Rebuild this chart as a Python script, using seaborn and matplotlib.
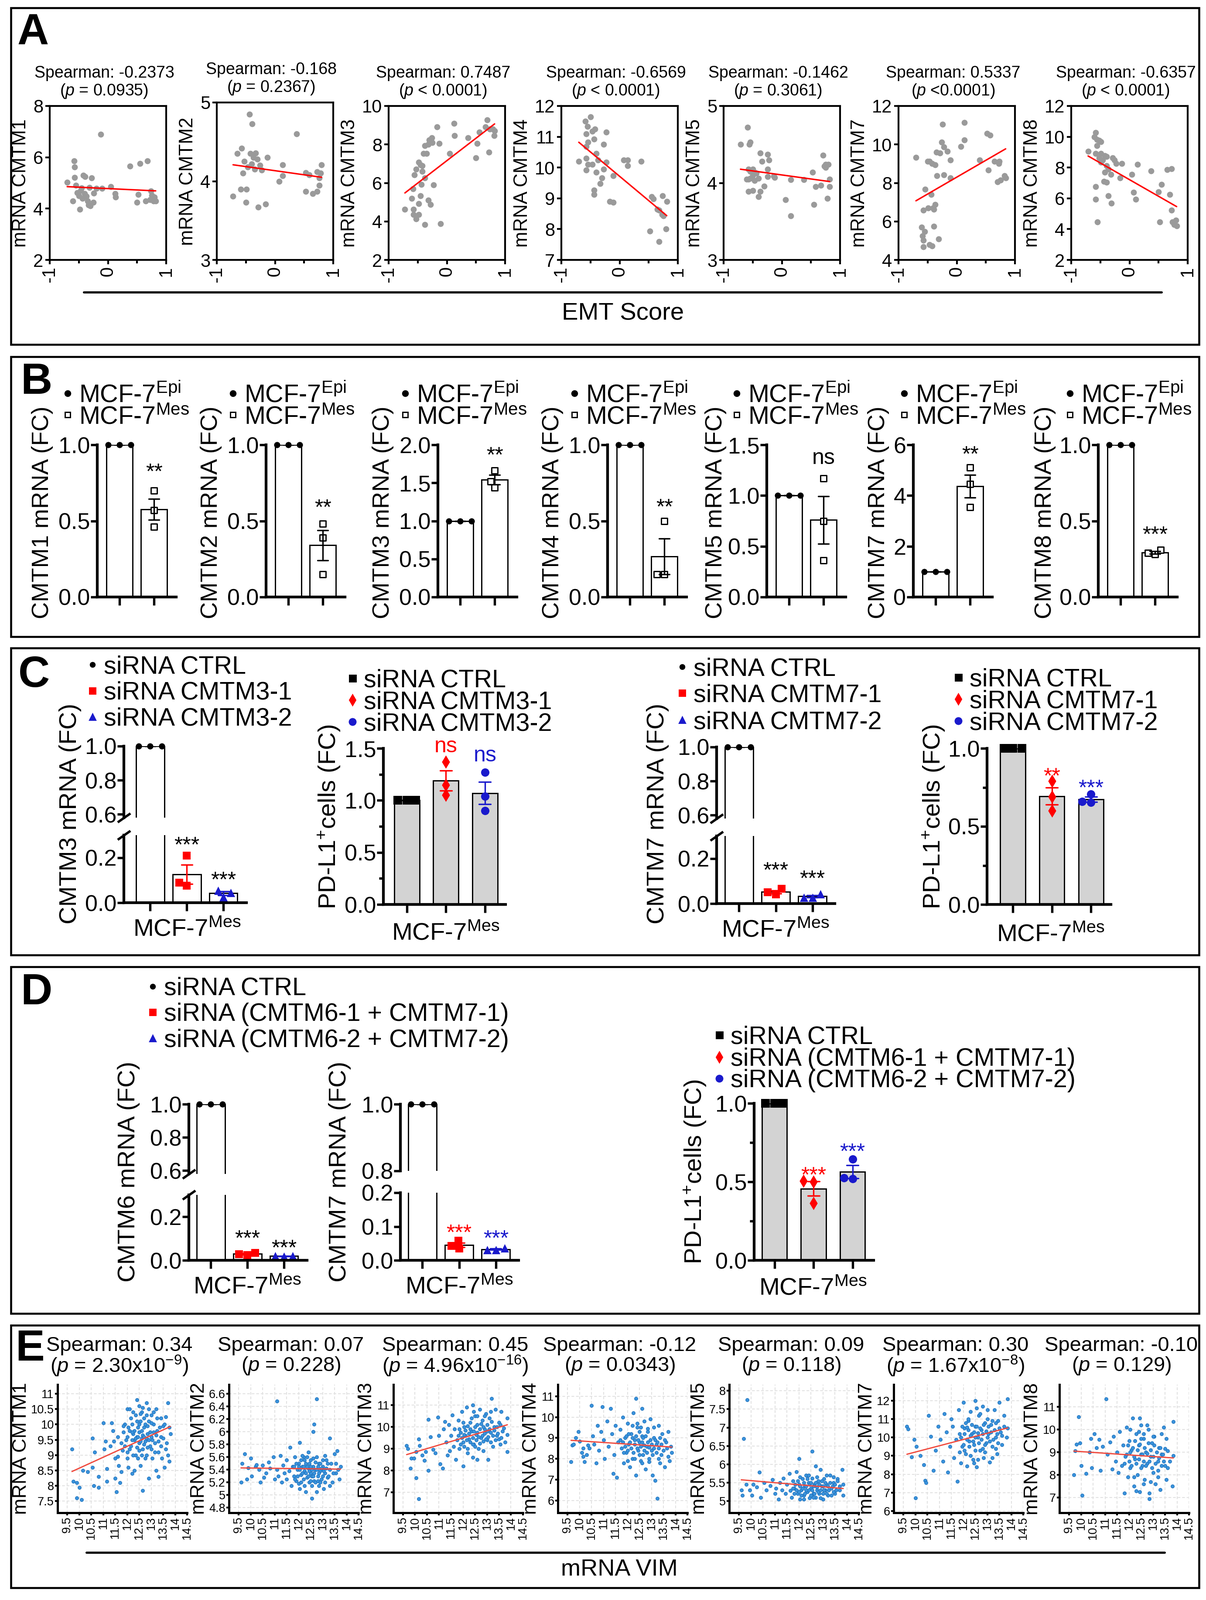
import numpy as np
import pandas as pd
import matplotlib.pyplot as plt
import seaborn as sns
from matplotlib.lines import Line2D
from matplotlib.patches import Rectangle
from matplotlib.ticker import FormatStrFormatter, MultipleLocator

# ---------------- DATA ----------------
# A: mRNA vs EMT score
a_genes = ['CMTM1', 'CMTM2', 'CMTM3', 'CMTM4', 'CMTM5', 'CMTM7', 'CMTM8']
a_rho = ['-0.2373', '-0.168', '0.7487', '-0.6569', '-0.1462', '0.5337', '-0.6357']
a_p = ['= 0.0935', '= 0.2367', '< 0.0001', '< 0.0001', '= 0.3061', '<0.0001', '< 0.0001']
a_ylim = [(2, 8), (3, 5), (2, 10), (7, 12), (3, 5), (4, 12), (2, 12)]
a_ystep = [2, 1, 2, 1, 1, 2, 2]

a_cmtm1 = [(-0.70, 5.02), (-0.60, 4.30), (-0.58, 5.85), (-0.57, 5.62), (-0.57, 5.22), (-0.55, 4.90),
           (-0.53, 4.62), (-0.50, 4.50), (-0.48, 3.98), (-0.47, 4.70), (-0.45, 4.80), (-0.44, 4.40),
           (-0.42, 5.30), (-0.40, 4.58), (-0.39, 5.25), (-0.37, 4.48), (-0.35, 4.30), (-0.33, 4.15),
           (-0.32, 4.82), (-0.30, 4.10), (-0.28, 5.20), (-0.25, 4.25), (-0.24, 4.60), (-0.20, 4.78),
           (-0.12, 6.90), (-0.10, 4.78), (0.05, 4.85), (0.12, 4.58), (0.13, 4.45), (0.38, 5.65),
           (0.50, 4.25), (0.52, 4.55), (0.55, 5.75), (0.65, 4.30), (0.68, 5.85), (0.72, 4.35),
           (0.74, 4.68), (0.75, 4.52), (0.78, 4.30), (0.80, 4.45), (0.82, 4.30)]
a_cmtm2 = [(-0.72, 3.81), (-0.65, 4.35), (-0.59, 3.90), (-0.57, 4.42), (-0.55, 4.10), (-0.53, 4.25),
           (-0.50, 3.73), (-0.49, 3.90), (-0.47, 4.18), (-0.44, 4.85), (-0.42, 4.35), (-0.40, 4.22),
           (-0.39, 4.73), (-0.37, 4.30), (-0.35, 4.15), (-0.33, 4.36), (-0.30, 4.28), (-0.29, 3.67),
           (-0.26, 4.20), (-0.23, 4.14), (-0.16, 3.71), (-0.13, 4.30), (0.07, 4.00), (0.13, 4.07),
           (0.13, 4.21), (0.37, 4.60), (0.53, 4.11), (0.53, 3.87), (0.59, 4.08), (0.65, 3.84),
           (0.72, 4.12), (0.72, 3.87), (0.76, 4.04), (0.76, 3.95), (0.80, 4.21), (0.78, 4.10)]
a_cmtm3 = [(-0.72, 4.64), (-0.60, 5.20), (-0.58, 5.70), (-0.57, 4.64), (-0.57, 4.35), (-0.56, 6.43),
           (-0.53, 4.12), (-0.53, 6.72), (-0.48, 4.35), (-0.48, 7.07), (-0.48, 4.93), (-0.45, 6.95),
           (-0.45, 5.33), (-0.44, 5.91), (-0.42, 6.60), (-0.42, 6.90), (-0.40, 7.53), (-0.38, 3.83),
           (-0.38, 6.26), (-0.38, 7.94), (-0.35, 7.53), (-0.32, 8.00), (-0.32, 5.10), (-0.30, 8.23),
           (-0.28, 4.87), (-0.26, 8.34), (-0.25, 8.10), (-0.23, 5.90), (-0.17, 8.92), (-0.13, 8.05),
           (-0.11, 3.89), (0.05, 7.53), (0.12, 9.10), (0.13, 8.46), (0.36, 8.34), (0.50, 7.30),
           (0.52, 8.05), (0.56, 8.63), (0.66, 8.92), (0.69, 9.27), (0.72, 7.60), (0.74, 8.80),
           (0.79, 8.80), (0.81, 8.46), (0.82, 8.70)]
a_cmtm4 = [(-0.70, 10.20), (-0.59, 11.50), (-0.57, 11.10), (-0.57, 10.68), (-0.57, 10.30), (-0.57, 9.92),
           (-0.55, 11.33), (-0.54, 10.82), (-0.54, 10.10), (-0.50, 11.65), (-0.47, 11.18), (-0.47, 10.10),
           (-0.44, 10.93), (-0.44, 9.26), (-0.44, 9.12), (-0.42, 11.25), (-0.40, 10.46), (-0.40, 9.84),
           (-0.37, 10.25), (-0.33, 9.48), (-0.30, 9.66), (-0.27, 10.75), (-0.27, 9.95), (-0.23, 11.15),
           (-0.23, 10.17), (-0.17, 8.90), (-0.11, 9.74), (-0.11, 8.87), (0.07, 10.24), (0.14, 10.24),
           (0.14, 10.06), (0.37, 10.20), (0.52, 7.93), (0.55, 9.05), (0.58, 8.98), (0.65, 8.65),
           (0.68, 8.61), (0.68, 7.60), (0.73, 8.47), (0.74, 9.08), (0.75, 8.43), (0.80, 8.00), (0.81, 8.90)]
a_cmtm5 = [(-0.71, 4.50), (-0.60, 4.05), (-0.59, 4.72), (-0.57, 4.18), (-0.57, 4.05), (-0.57, 3.89),
           (-0.56, 4.50), (-0.54, 4.53), (-0.54, 4.15), (-0.54, 4.06), (-0.50, 4.18), (-0.50, 4.10),
           (-0.50, 3.90), (-0.47, 4.14), (-0.47, 4.03), (-0.44, 4.13), (-0.40, 4.06), (-0.40, 3.82),
           (-0.37, 4.39), (-0.37, 3.89), (-0.34, 4.28), (-0.30, 3.96), (-0.24, 4.37), (-0.24, 4.18),
           (-0.24, 4.08), (-0.22, 4.30), (-0.14, 4.09), (-0.12, 4.07), (0.06, 3.78), (0.15, 4.04),
           (0.15, 3.57), (0.38, 4.04), (0.53, 4.14), (0.55, 3.72), (0.58, 3.95), (0.67, 3.97),
           (0.71, 4.36), (0.73, 4.22), (0.75, 4.24), (0.75, 4.20), (0.78, 3.80), (0.80, 4.24),
           (0.82, 4.05), (0.82, 3.95)]
a_cmtm7 = [(-0.70, 9.32), (-0.60, 5.71), (-0.59, 5.25), (-0.57, 6.58), (-0.57, 5.02), (-0.57, 4.67),
           (-0.55, 5.48), (-0.54, 7.68), (-0.50, 9.13), (-0.49, 6.70), (-0.47, 9.13), (-0.47, 4.79),
           (-0.44, 7.39), (-0.42, 9.01), (-0.42, 4.73), (-0.41, 6.70), (-0.39, 6.64), (-0.39, 5.74),
           (-0.37, 8.95), (-0.37, 6.87), (-0.35, 9.59), (-0.34, 8.37), (-0.31, 5.08), (-0.29, 9.56),
           (-0.26, 10.11), (-0.24, 11.04), (-0.22, 9.88), (-0.22, 8.43), (-0.16, 9.65), (-0.11, 9.19),
           (-0.11, 8.26), (0.07, 9.90), (0.13, 10.23), (0.13, 11.15), (0.39, 9.19), (0.52, 10.57),
           (0.54, 8.66), (0.57, 10.49), (0.65, 9.13), (0.70, 8.05), (0.72, 9.01), (0.73, 9.13),
           (0.75, 8.14), (0.82, 8.37), (0.84, 8.26)]
a_cmtm8 = [(-0.71, 9.06), (-0.60, 10.00), (-0.58, 10.26), (-0.58, 8.92), (-0.58, 6.75), (-0.58, 5.95),
           (-0.56, 9.81), (-0.56, 9.42), (-0.55, 4.46), (-0.52, 9.76), (-0.52, 8.63), (-0.49, 9.67),
           (-0.49, 8.92), (-0.49, 8.34), (-0.46, 8.48), (-0.44, 7.11), (-0.42, 8.77), (-0.42, 7.69),
           (-0.39, 8.70), (-0.39, 8.12), (-0.39, 7.04), (-0.36, 7.90), (-0.36, 6.17), (-0.32, 7.54),
           (-0.31, 5.69), (-0.29, 8.63), (-0.26, 8.48), (-0.23, 8.27), (-0.16, 7.33), (-0.13, 8.27),
           (0.04, 7.54), (0.07, 6.38), (0.11, 5.95), (0.14, 8.19), (0.37, 7.79), (0.50, 6.43),
           (0.52, 4.46), (0.55, 6.89), (0.65, 7.86), (0.69, 6.24), (0.72, 7.93), (0.72, 5.23),
           (0.74, 4.46), (0.77, 4.29), (0.80, 4.58), (0.81, 4.21)]

# B: MCF-7 Epi vs Mes, fold change
b_genes = ['CMTM1', 'CMTM2', 'CMTM3', 'CMTM4', 'CMTM5', 'CMTM7', 'CMTM8']
b_groups = ['Epi', 'Mes']
b_epi = [[1.0, 1.0, 1.0]] * 7
b_mes = [[0.70, 0.57, 0.46], [0.48, 0.39, 0.15], [1.66, 1.52, 1.44], [0.50, 0.15, 0.15],
         [1.17, 0.75, 0.36], [5.10, 4.45, 3.55], [0.28, 0.31, 0.29]]
b_ymax = [1.0, 1.0, 2.0, 1.0, 1.5, 6.0, 1.0]
b_ystep = [0.5, 0.5, 0.5, 0.5, 0.5, 2, 0.5]
b_sig = ['**', '**', '**', '**', 'ns', '**', '***']
b_sig_y = [0.85, 0.615, 1.92, 0.62, 1.35, 5.79, 0.44]

# C: siRNA knock-down in MCF-7 Mes
c_groups3 = ['siRNA CTRL', 'siRNA CMTM3-1', 'siRNA CMTM3-2']
c_groups7 = ['siRNA CTRL', 'siRNA CMTM7-1', 'siRNA CMTM7-2']
c_cmtm3_mrna = [[1.0, 1.0, 1.0], [0.21, 0.09, 0.075], [0.055, 0.045, 0.025]]
c_cmtm3_pdl1 = [[1.0, 1.0, 1.0], [1.37, 1.15, 1.05], [1.27, 1.04, 0.90]]
c_cmtm7_mrna = [[1.0, 1.0, 1.0], [0.065, 0.05, 0.04], [0.042, 0.028, 0.028]]
c_cmtm7_pdl1 = [[1.0, 1.0, 1.0], [0.79, 0.69, 0.60], [0.707, 0.66, 0.653]]

# D: double knock-down
d_groups = ['siRNA CTRL', 'siRNA (CMTM6-1 + CMTM7-1)', 'siRNA (CMTM6-2 + CMTM7-2)']
d_cmtm6_mrna = [[1.0, 1.0, 1.0], [0.035, 0.028, 0.025], [0.02, 0.02, 0.018]]
d_cmtm7_mrna = [[1.0, 1.0, 1.0], [0.058, 0.042, 0.035], [0.036, 0.031, 0.031]]
d_pdl1 = [[1.0, 1.0, 1.0], [0.505, 0.50, 0.365], [0.645, 0.525, 0.52]]

# E: mRNA vs VIM mRNA (outer points + dense core)
e_genes = ['CMTM1', 'CMTM2', 'CMTM3', 'CMTM4', 'CMTM5', 'CMTM7', 'CMTM8']
e_rho = ['0.34', '0.07', '0.45', '-0.12', '0.09', '0.30', '-0.10']
e_p = [r'2.30x10$^{\mathregular{-9}}$', '0.228', r'4.96x10$^{\mathregular{-16}}$', '0.0343', '0.118',
       r'1.67x10$^{\mathregular{-8}}$', '0.129']
e_xticks = [9.5, 10, 10.5, 11, 11.5, 12, 12.5, 13, 13.5, 14, 14.5]
e_yticks = [[7.5, 8, 8.5, 9, 9.5, 10, 10.5, 11], [4.8, 5, 5.2, 5.4, 5.6, 5.8, 6, 6.2, 6.4, 6.6],
            [7, 8, 9, 10, 11], [6, 7, 8, 9, 10, 11], [5, 5.5, 6, 6.5, 7, 7.5, 8],
            [6, 7, 8, 9, 10, 11, 12], [7, 8, 9, 10, 11]]
e_ylim = [(7.12, 11.3), (4.72, 6.745), (6.05, 11.95), (5.41, 11.56), (4.68, 8.17), (5.9, 12.88), (6.33, 11.98)]

e_cmtm1 = [(9.7, 9.2), (9.75, 8.15), (9.9, 8.1), (10.0, 7.95), (9.9, 7.6), (10.1, 7.55), (10.15, 8.5),
           (10.35, 8.45), (10.55, 8.6), (10.55, 9.55), (10.65, 9.1), (10.6, 8.0), (10.8, 8.3), (10.8, 7.95),
           (11.0, 10.05), (11.1, 9.45), (11.05, 9.2), (11.15, 8.55), (11.15, 8.15), (11.3, 9.3), (11.35, 10.05),
           (11.4, 9.8), (11.45, 9.45), (11.5, 8.9), (11.5, 8.25), (11.55, 7.8), (11.6, 8.95), (11.6, 9.6),
           (11.65, 8.65), (11.7, 8.1), (11.75, 8.45), (11.75, 9.4), (11.8, 9.15), (11.85, 9.75), (11.9, 10.0),
           (11.95, 9.5), (12.0, 10.5), (12.0, 9.1), (12.05, 8.6), (12.1, 9.8), (12.1, 10.5), (12.15, 9.3),
           (12.2, 8.4), (12.2, 10.0), (12.25, 9.7), (12.3, 9.5), (12.3, 8.5), (12.35, 10.3), (12.35, 9.0),
           (12.4, 10.8), (12.4, 9.6), (12.45, 9.9), (12.45, 8.9), (12.5, 10.6), (12.5, 9.4), (12.5, 9.75),
           (12.55, 10.1), (12.55, 8.65), (12.6, 9.55), (12.6, 10.4), (12.65, 9.2), (12.65, 7.85), (12.7, 9.9),
           (12.7, 10.2), (12.75, 9.45), (12.8, 10.7), (12.8, 9.0), (12.85, 9.7), (12.9, 10.1), (12.9, 8.25),
           (12.95, 9.3), (13.0, 10.3), (13.0, 9.6), (13.05, 8.9), (13.1, 10.0), (13.15, 9.4), (13.2, 10.5),
           (13.2, 8.5), (13.25, 9.8), (13.3, 9.1), (13.3, 8.3), (13.4, 10.2), (13.4, 9.6), (13.45, 8.9),
           (13.5, 9.95), (13.55, 8.6), (13.6, 10.25), (13.65, 9.4), (13.7, 10.7), (13.7, 9.0), (13.75, 8.8),
           (13.8, 9.7)]
e_cmtm1_core = [(12.0, 9.6), (12.05, 9.9), (12.1, 9.2), (12.15, 10.2), (12.2, 9.5), (12.25, 9.0), (12.25, 10.4),
                (12.3, 9.8), (12.35, 9.55), (12.4, 10.1), (12.4, 9.25), (12.45, 9.6), (12.5, 10.0), (12.5, 9.15),
                (12.55, 9.45), (12.55, 10.35), (12.6, 9.8), (12.6, 9.0), (12.65, 10.55), (12.65, 9.65),
                (12.7, 9.35), (12.7, 9.6), (12.75, 10.0), (12.75, 8.9), (12.8, 9.55), (12.8, 10.3), (12.85, 9.25),
                (12.85, 9.95), (12.9, 9.5), (12.9, 10.5), (12.95, 9.75), (13.0, 9.2), (13.0, 10.05), (13.05, 9.5),
                (13.1, 9.75), (13.1, 10.4), (13.15, 9.1), (13.2, 9.65), (13.25, 10.2), (13.3, 9.45), (13.35, 9.9),
                (13.4, 9.3), (13.5, 9.55), (13.55, 10.0), (13.6, 9.2), (13.75, 9.9), (12.0, 8.9), (11.9, 9.3),
                (11.85, 9.95), (12.2, 9.75)]
e_cmtm2 = [(9.6, 5.2), (9.65, 5.5), (9.75, 5.65), (9.85, 5.25), (9.9, 5.43), (10.0, 5.58), (10.05, 5.3),
           (10.2, 5.45), (10.25, 5.48), (10.35, 5.4), (10.4, 5.2), (10.5, 5.47), (10.55, 5.28), (10.65, 5.35),
           (10.75, 5.52), (10.8, 5.42), (10.95, 5.6), (11.0, 5.25), (11.1, 6.48), (11.1, 5.4), (11.15, 5.3),
           (11.25, 5.62), (11.3, 5.2), (11.35, 5.47), (11.4, 5.35), (11.5, 5.55), (11.5, 5.25), (11.6, 5.38),
           (11.65, 5.75), (11.7, 5.15), (11.75, 5.45), (11.8, 5.3), (11.85, 5.6), (11.9, 5.22), (11.95, 5.4),
           (12.0, 5.5), (12.05, 5.83), (12.05, 5.1), (12.1, 5.32), (12.15, 5.45), (12.2, 5.25), (12.2, 5.6),
           (12.25, 5.38), (12.3, 5.05), (12.3, 5.5), (12.35, 5.28), (12.4, 5.68), (12.4, 5.42), (12.45, 5.2),
           (12.5, 5.35), (12.5, 5.55), (12.55, 4.95), (12.55, 5.3), (12.6, 6.0), (12.6, 5.45), (12.65, 6.12),
           (12.65, 5.22), (12.7, 5.4), (12.75, 6.52), (12.75, 5.6), (12.8, 5.3), (12.85, 5.15), (12.85, 5.5),
           (12.9, 5.38), (12.95, 5.25), (13.0, 5.45), (13.05, 5.1), (13.1, 5.35), (13.15, 5.55), (13.2, 5.28),
           (13.3, 5.9), (13.3, 5.4), (13.4, 5.2), (13.5, 5.65), (13.55, 5.35), (13.6, 5.7), (13.7, 5.25),
           (13.75, 5.45)]
e_cmtm2_core = [(11.8, 5.45), (11.85, 5.25), (11.9, 5.5), (11.95, 5.3), (12.0, 5.18), (12.05, 5.4), (12.1, 5.55),
                (12.1, 5.2), (12.15, 5.35), (12.2, 5.45), (12.25, 5.15), (12.25, 5.55), (12.3, 5.35), (12.35, 5.45),
                (12.4, 5.3), (12.45, 5.5), (12.45, 5.38), (12.5, 5.22), (12.5, 5.45), (12.55, 5.4), (12.6, 5.3),
                (12.6, 5.58), (12.65, 5.35), (12.7, 5.2), (12.7, 5.52), (12.75, 5.4), (12.8, 5.45), (12.8, 5.22),
                (12.85, 5.35), (12.9, 5.5), (12.9, 5.2), (12.95, 5.42), (13.0, 5.3), (13.0, 5.55), (13.05, 5.38),
                (13.1, 5.2), (13.15, 5.42), (13.2, 5.5), (13.25, 5.3), (13.3, 5.15), (13.35, 5.5), (13.45, 5.35),
                (12.35, 5.6), (12.55, 5.15), (12.15, 5.62), (13.1, 5.62), (12.0, 5.45), (12.75, 5.05),
                (13.55, 5.5), (13.65, 5.4)]
e_cmtm3 = [(9.65, 9.15), (9.7, 9.0), (9.8, 8.1), (9.85, 8.55), (9.95, 8.55), (10.05, 8.85), (10.05, 7.65),
           (10.15, 6.7), (10.15, 9.45), (10.2, 9.15), (10.3, 8.7), (10.4, 8.45), (10.45, 8.85), (10.55, 8.0),
           (10.55, 10.35), (10.65, 9.55), (10.75, 8.95), (10.85, 8.8), (10.95, 10.45), (11.0, 9.6), (11.05, 8.3),
           (11.15, 8.1), (11.2, 9.9), (11.25, 10.25), (11.3, 9.3), (11.35, 8.7), (11.4, 10.1), (11.45, 8.9),
           (11.5, 9.6), (11.55, 10.55), (11.6, 9.1), (11.65, 9.9), (11.7, 8.5), (11.75, 9.4), (11.8, 10.3),
           (11.85, 9.0), (11.9, 9.75), (11.95, 10.7), (12.0, 9.3), (12.0, 8.2), (12.05, 10.0), (12.1, 9.6),
           (12.15, 10.9), (12.2, 8.8), (12.25, 9.45), (12.3, 10.2), (12.35, 9.8), (12.4, 11.0), (12.4, 8.6),
           (12.45, 9.2), (12.5, 10.5), (12.55, 9.65), (12.6, 10.1), (12.6, 8.5), (12.65, 9.0), (12.7, 10.8),
           (12.75, 9.5), (12.8, 10.3), (12.85, 8.9), (12.9, 9.9), (12.95, 10.6), (13.0, 9.4), (13.05, 8.5),
           (13.1, 10.4), (13.15, 9.75), (13.2, 11.3), (13.25, 9.1), (13.3, 10.0), (13.35, 10.8), (13.4, 9.6),
           (13.5, 10.2), (13.55, 9.2), (13.6, 10.7), (13.65, 9.8), (13.75, 9.3), (13.85, 10.4), (13.85, 8.85),
           (13.85, 9.65)]
e_cmtm3_core = [(11.8, 9.6), (11.85, 9.9), (11.9, 9.2), (11.95, 9.5), (12.0, 10.2), (12.05, 9.1), (12.1, 9.85),
                (12.15, 9.4), (12.2, 10.05), (12.25, 9.7), (12.3, 9.3), (12.3, 9.9), (12.35, 10.4), (12.4, 9.5),
                (12.45, 9.8), (12.5, 9.1), (12.5, 10.0), (12.55, 9.4), (12.6, 9.75), (12.6, 10.5), (12.65, 9.55),
                (12.7, 9.9), (12.7, 9.25), (12.75, 10.15), (12.8, 9.6), (12.85, 9.35), (12.85, 10.0), (12.9, 9.7),
                (12.95, 9.45), (13.0, 10.1), (13.0, 9.8), (13.05, 9.55), (13.1, 9.9), (13.15, 9.3), (13.2, 10.25),
                (13.25, 9.6), (13.3, 9.85), (13.35, 9.4), (13.4, 10.0), (13.45, 9.7), (13.5, 9.45), (13.55, 10.1),
                (13.6, 9.5), (13.7, 9.95), (12.2, 9.0), (12.45, 10.7), (12.9, 10.5), (12.4, 9.2), (13.15, 10.7),
                (12.05, 9.65)]
e_cmtm4 = [(9.65, 7.85), (9.7, 8.65), (9.75, 8.7), (9.85, 9.0), (9.95, 9.3), (10.0, 8.85), (10.1, 8.3),
           (10.15, 8.1), (10.15, 8.5), (10.2, 7.85), (10.3, 8.2), (10.35, 8.65), (10.4, 8.5), (10.5, 10.55),
           (10.55, 9.1), (10.6, 8.7), (10.7, 7.8), (10.75, 9.6), (10.8, 8.4), (10.9, 9.3), (10.95, 10.5),
           (11.0, 8.9), (11.05, 8.0), (11.15, 9.8), (11.2, 8.6), (11.3, 10.4), (11.35, 9.2), (11.4, 7.3),
           (11.45, 8.2), (11.5, 9.6), (11.55, 7.1), (11.6, 8.8), (11.7, 9.4), (11.75, 8.5), (11.8, 10.0),
           (11.85, 7.8), (11.9, 9.0), (11.95, 8.3), (12.0, 9.7), (12.05, 8.7), (12.1, 7.6), (12.15, 9.2),
           (12.2, 8.0), (12.25, 10.2), (12.3, 8.9), (12.35, 7.2), (12.35, 10.9), (12.4, 9.5), (12.45, 8.4),
           (12.5, 8.8), (12.55, 7.9), (12.6, 10.4), (12.6, 9.1), (12.65, 8.2), (12.7, 9.8), (12.75, 7.5),
           (12.8, 8.6), (12.85, 9.3), (12.9, 8.0), (12.95, 9.9), (13.0, 8.4), (13.05, 7.2), (13.1, 9.0),
           (13.15, 6.95), (13.2, 8.7), (13.25, 6.1), (13.3, 9.6), (13.35, 7.8), (13.4, 8.2), (13.45, 9.2),
           (13.55, 7.6), (13.6, 8.8), (13.7, 9.3), (13.75, 7.9), (13.8, 8.6), (13.85, 8.3)]
e_cmtm4_core = [(11.8, 8.8), (11.85, 8.3), (11.9, 8.6), (11.95, 9.1), (12.0, 8.4), (12.05, 9.2), (12.1, 8.8),
                (12.15, 8.5), (12.2, 9.0), (12.25, 8.3), (12.3, 8.7), (12.35, 9.1), (12.4, 8.5), (12.45, 8.9),
                (12.5, 8.2), (12.5, 9.3), (12.55, 8.6), (12.6, 8.8), (12.65, 9.0), (12.7, 8.4), (12.7, 8.65),
                (12.75, 9.1), (12.8, 8.3), (12.85, 8.8), (12.9, 8.55), (12.95, 8.9), (13.0, 8.7), (13.05, 8.2),
                (13.1, 8.5), (13.15, 8.9), (13.2, 8.3), (13.25, 8.8), (13.3, 8.5), (13.35, 9.0), (13.4, 8.7),
                (13.5, 8.4), (13.55, 8.9), (13.65, 8.5), (12.3, 8.0), (12.6, 7.8), (12.9, 7.85), (12.2, 9.6),
                (12.85, 9.45), (13.1, 9.5), (12.4, 9.7), (12.0, 7.9), (13.3, 8.0), (12.55, 9.5), (11.7, 8.9),
                (13.7, 8.1)]
e_cmtm5 = [(9.6, 5.3), (9.65, 5.15), (9.7, 6.7), (9.8, 5.45), (9.85, 7.75), (9.95, 5.3), (10.05, 5.15),
           (10.1, 5.45), (10.25, 5.38), (10.35, 5.78), (10.4, 5.1), (10.55, 5.5), (10.65, 5.3), (10.8, 5.42),
           (10.9, 5.58), (11.0, 5.2), (11.05, 5.35), (11.15, 5.05), (11.2, 5.5), (11.3, 5.3), (11.35, 5.62),
           (11.45, 5.2), (11.5, 5.45), (11.6, 5.75), (11.65, 5.28), (11.7, 5.1), (11.75, 5.55), (11.8, 5.35),
           (11.9, 5.8), (11.95, 5.2), (12.0, 6.15), (12.0, 5.45), (12.05, 5.05), (12.1, 5.3), (12.15, 5.6),
           (12.2, 5.15), (12.25, 5.4), (12.3, 5.7), (12.35, 5.25), (12.4, 5.5), (12.45, 5.08), (12.5, 5.35),
           (12.55, 6.35), (12.55, 5.62), (12.6, 5.2), (12.65, 5.45), (12.7, 5.95), (12.7, 5.1), (12.75, 5.3),
           (12.8, 5.55), (12.85, 5.2), (12.9, 5.85), (12.95, 5.4), (13.0, 5.05), (13.05, 5.6), (13.1, 5.3),
           (13.15, 5.45), (13.2, 5.15), (13.3, 5.7), (13.35, 5.35), (13.45, 5.5), (13.5, 5.2), (13.6, 5.6),
           (13.7, 5.3), (13.8, 5.85), (13.85, 5.15), (13.85, 5.45)]
e_cmtm5_core = [(11.8, 5.2), (11.85, 5.45), (11.9, 5.3), (11.95, 5.55), (12.0, 5.25), (12.05, 5.4), (12.1, 5.15),
                (12.15, 5.35), (12.2, 5.5), (12.25, 5.2), (12.3, 5.4), (12.35, 5.6), (12.4, 5.3), (12.45, 5.45),
                (12.5, 5.15), (12.5, 5.5), (12.55, 5.3), (12.6, 5.4), (12.65, 5.2), (12.7, 5.5), (12.75, 5.38),
                (12.8, 5.25), (12.85, 5.45), (12.9, 5.3), (12.95, 5.55), (13.0, 5.2), (13.0, 5.4), (13.05, 5.3),
                (13.1, 5.5), (13.15, 5.2), (13.2, 5.4), (13.25, 5.3), (13.3, 5.5), (13.35, 5.15), (13.4, 5.4),
                (13.45, 5.25), (13.5, 5.45), (13.55, 5.3), (13.6, 5.55), (13.7, 5.4), (12.2, 5.05), (12.6, 5.1),
                (12.9, 5.08), (12.4, 5.7), (12.75, 5.65), (13.15, 5.7), (12.05, 5.65), (11.75, 5.35),
                (13.45, 5.65), (12.3, 5.3)]
e_cmtm7 = [(9.65, 10.6), (9.7, 10.45), (9.85, 8.95), (9.95, 9.9), (10.0, 6.7), (10.05, 9.5), (10.2, 9.0),
           (10.35, 8.5), (10.4, 7.65), (10.45, 7.55), (10.55, 11.2), (10.65, 10.05), (10.75, 8.2), (10.85, 9.3),
           (10.95, 10.6), (11.05, 9.9), (11.15, 8.7), (11.2, 11.3), (11.3, 10.3), (11.35, 8.1), (11.45, 9.5),
           (11.5, 11.0), (11.55, 10.6), (11.6, 8.9), (11.7, 9.9), (11.75, 7.6), (11.8, 11.5), (11.85, 10.2),
           (11.9, 8.6), (11.95, 9.5), (12.0, 11.9), (12.05, 10.5), (12.1, 9.1), (12.15, 8.45), (12.2, 10.9),
           (12.25, 9.8), (12.3, 11.4), (12.35, 10.2), (12.4, 8.8), (12.45, 9.6), (12.5, 12.0), (12.5, 10.6),
           (12.55, 8.4), (12.6, 10.0), (12.65, 11.2), (12.7, 9.3), (12.75, 10.4), (12.8, 11.7), (12.85, 8.9),
           (12.9, 10.8), (12.95, 9.7), (13.0, 11.0), (13.05, 10.2), (13.1, 8.65), (13.15, 10.7), (13.2, 9.5),
           (13.3, 11.5), (13.35, 10.0), (13.4, 9.1), (13.45, 10.9), (13.5, 11.9), (13.55, 10.3), (13.6, 9.6),
           (13.7, 11.2), (13.8, 10.0), (13.85, 12.1), (13.85, 10.5)]
e_cmtm7_core = [(11.9, 10.0), (11.95, 10.6), (12.0, 9.6), (12.05, 10.2), (12.1, 10.8), (12.15, 9.9), (12.2, 10.4),
                (12.25, 9.5), (12.3, 10.1), (12.35, 10.7), (12.4, 9.8), (12.45, 10.3), (12.5, 9.3), (12.5, 10.0),
                (12.55, 10.6), (12.6, 10.25), (12.65, 9.7), (12.7, 10.5), (12.75, 9.9), (12.8, 10.2), (12.85, 10.7),
                (12.9, 9.6), (12.95, 10.35), (13.0, 10.0), (13.05, 10.6), (13.1, 9.8), (13.15, 10.3), (13.2, 10.9),
                (13.25, 9.9), (13.3, 10.4), (13.35, 10.8), (13.4, 10.2), (13.45, 9.7), (13.5, 10.5), (13.6, 10.1),
                (12.3, 9.0), (12.6, 8.8), (12.9, 9.2), (12.2, 11.0), (12.7, 11.3), (13.0, 11.5), (12.45, 8.6),
                (13.2, 8.9), (12.05, 9.3), (13.7, 10.6), (12.55, 11.6), (12.8, 9.4), (13.35, 9.4), (11.85, 9.2),
                (12.15, 10.55)]
e_cmtm8 = [(9.7, 8.0), (9.75, 9.05), (9.8, 9.35), (9.9, 10.55), (9.95, 9.4), (10.0, 8.4), (10.05, 7.1),
           (10.2, 8.05), (10.35, 9.0), (10.4, 9.6), (10.45, 8.3), (10.55, 9.8), (10.65, 9.2), (10.75, 9.55),
           (10.8, 8.2), (10.9, 9.25), (11.05, 11.35), (11.1, 8.9), (11.2, 9.45), (11.3, 8.25), (11.35, 9.7),
           (11.45, 8.6), (11.5, 9.0), (11.55, 8.1), (11.6, 9.9), (11.7, 8.4), (11.75, 9.3), (11.8, 7.2),
           (11.85, 8.8), (11.9, 10.1), (11.95, 7.9), (12.0, 9.5), (12.05, 8.3), (12.1, 9.1), (12.15, 10.5),
           (12.2, 7.5), (12.25, 8.7), (12.3, 9.8), (12.35, 8.0), (12.4, 9.3), (12.45, 7.25), (12.5, 8.9),
           (12.5, 10.2), (12.55, 8.4), (12.6, 9.6), (12.65, 7.8), (12.7, 9.0), (12.75, 8.5), (12.8, 10.0),
           (12.85, 6.95), (12.9, 8.8), (12.95, 9.4), (13.0, 8.1), (13.05, 9.7), (13.1, 7.6), (13.2, 8.6),
           (13.25, 9.2), (13.3, 7.35), (13.35, 8.9), (13.45, 10.1), (13.5, 8.4), (13.55, 7.8), (13.6, 9.05),
           (13.7, 8.6), (13.8, 7.5), (13.85, 10.35), (13.85, 8.85)]
e_cmtm8_core = [(11.9, 8.9), (11.95, 9.3), (12.0, 8.6), (12.05, 9.0), (12.1, 8.4), (12.15, 9.2), (12.2, 8.8),
                (12.25, 9.5), (12.3, 8.5), (12.35, 9.1), (12.4, 8.7), (12.45, 9.35), (12.5, 8.3), (12.5, 9.6),
                (12.55, 8.9), (12.6, 8.6), (12.65, 9.2), (12.7, 8.4), (12.75, 8.95), (12.8, 9.4), (12.85, 8.6),
                (12.9, 9.1), (12.95, 8.3), (13.0, 8.8), (13.05, 9.3), (13.1, 8.5), (13.15, 9.0), (13.2, 8.2),
                (13.25, 8.75), (13.3, 9.2), (13.35, 8.4), (13.4, 8.9), (13.45, 8.6), (13.5, 9.15), (13.6, 8.3),
                (12.2, 7.9), (12.6, 7.6), (12.9, 7.7), (12.4, 9.9), (12.75, 10.2), (13.0, 9.7), (12.3, 7.3),
                (13.2, 7.9), (12.05, 10.0), (13.55, 9.6), (12.45, 10.5), (12.85, 7.2), (13.35, 9.8), (11.8, 8.5),
                (12.6, 9.8)]

# ---------------- STYLE ----------------
sns.set_style('ticks', rc={'axes.edgecolor': 'black', 'xtick.color': 'black', 'ytick.color': 'black',
                           'text.color': 'black', 'axes.labelcolor': 'black'})
plt.rcParams['font.family'] = ['Liberation Sans', 'DejaVu Sans']
plt.rcParams['mathtext.fontset'] = 'custom'
plt.rcParams['mathtext.rm'] = 'Liberation Sans'
plt.rcParams['mathtext.it'] = 'Liberation Sans:italic'
plt.rcParams['mathtext.bf'] = 'Liberation Sans:bold'
plt.rcParams['axes.unicode_minus'] = False

RED = '#ff0000'
BLUE = '#1a1acc'
W, H = 2765, 3669
fig = plt.figure(figsize=(W / 300, H / 300), dpi=300)


def box(x0, y0, x1, y1):
    return fig.add_axes([x0 / W, 1 - y1 / H, (x1 - x0) / W, (y1 - y0) / H])


def ftext(x, y, s, **kw):
    fig.text(x / W, 1 - y / H, s, **kw)


def hline(x0, x1, y):
    fig.add_artist(Line2D([x0 / W, x1 / W], [1 - y / H, 1 - y / H], color='black', lw=1.2))


def key(mx, y, marker, mfc, mec, ms, label, fs=13.8):
    h = Line2D([], [], ls='', marker=marker, mfc=mfc, mec=mec, ms=ms, mew=0.7)
    left = mx - 0.2 * fs * 300 / 72
    fig.legend([h], [label], loc='center left', bbox_to_anchor=(left / W, 1 - y / H),
               frameon=False, fontsize=fs, handlelength=0.4, handletextpad=0.25,
               borderpad=0, borderaxespad=0)


def sig(ax, x, y, s, c):
    dy = -3 if '*' in s else 1
    ax.annotate(s, (x, y), xytext=(0, dy), textcoords='offset points', ha='center', va='center',
                fontsize=12, color=c, annotation_clip=False)


def bar_chart(ax, groups, values, fill, styles, cols, width, show):
    df = pd.DataFrame({'group': np.repeat(groups, [len(v) for v in values]),
                       'val': np.concatenate(values)})
    for g, c in zip(groups, cols):
        sns.barplot(data=df[df['group'] == g], x='group', y='val', order=groups, ax=ax,
                    errorbar='se', capsize=0.3, width=width, color=fill, saturation=1,
                    edgecolor='black', linewidth=0.7, err_kws={'color': c, 'linewidth': 0.8})
    for g, (m, fc, ec, s, lw), sh in zip(groups, styles, show):
        if not sh:
            continue
        sns.swarmplot(data=df[df['group'] == g], x='group', y='val', order=groups, ax=ax,
                      marker=m, color=fc, edgecolor=ec, linewidth=lw, size=s,
                      zorder=1.8, clip_on=False, warn_thresh=1)


def style_bar(ax, bottom=True, minor=None):
    sns.despine(ax=ax, bottom=not bottom)
    ax.spines['left'].set_linewidth(1.5)
    ax.spines['bottom'].set_linewidth(1.5)
    ax.tick_params(axis='y', which='major', width=1.3, length=3.5, labelsize=12.5, pad=0.5)
    ax.tick_params(axis='x', width=1.3, length=4.5, labelbottom=False, bottom=bottom)
    if minor:
        ax.yaxis.set_minor_locator(MultipleLocator(minor))
        ax.tick_params(axis='y', which='minor', width=1.3, length=2.5)
    ax.set_xlabel('')
    ax.set_ylabel('')


def break_marks(up, lo):
    kw = dict(marker=[(-1, -0.7), (1, 0.7)], markersize=7, linestyle='none', color='black',
              mec='black', mew=1.3, clip_on=False)
    up.plot([0], [0], transform=up.transAxes, **kw)
    lo.plot([0], [1], transform=lo.transAxes, **kw)


def split_chart(x0, w, ys, xlim, up_lim, up_ticks, lo_lim, lo_ticks, groups, values, styles, cols,
                marks=True):
    up = box(x0, ys[0], x0 + w, ys[1])
    lo = box(x0, ys[2], x0 + w, ys[3])
    bar_chart(up, groups, values, 'white', styles, ['black'] + cols[1:], 0.77, [True, False, False])
    bar_chart(lo, groups, values, 'white', styles, ['black'] + cols[1:], 0.77, [False, True, True])
    for ax, lim, ticks in [(up, up_lim, up_ticks), (lo, lo_lim, lo_ticks)]:
        ax.set_xlim(*xlim)
        ax.set_ylim(*lim)
        ax.set_yticks(ticks)
        ax.yaxis.set_major_formatter(FormatStrFormatter('%.1f'))
    style_bar(up, bottom=False)
    style_bar(lo)
    if marks:
        break_marks(up, lo)
    return up, lo


MES = r'MCF-7$^{\mathregular{Mes}}$'
PDL1 = r'PD-L1$^{+}$cells (FC)'

# ---------------- PANEL FRAMES ----------------
for y0, y1 in [(18, 790), (818, 1460), (1486, 2190), (2217, 3012), (3039, 3641)]:
    fig.add_artist(Rectangle((25 / W, 1 - y1 / H), (2749 - 25) / W, (y1 - y0) / H,
                             transform=fig.transFigure, fill=False, lw=1.1, ec='black'))
for letter, x, y in [('A', 40, 30), ('B', 47, 830), ('C', 42, 1502), ('D', 47, 2230), ('E', 35, 3047)]:
    ftext(x, y, letter, ha='left', va='top', fontsize=24, fontweight='bold')

# ---------------- PANEL A ----------------
a_points = [a_cmtm1, a_cmtm2, a_cmtm3, a_cmtm4, a_cmtm5, a_cmtm7, a_cmtm8]
a_left = [114, 497, 891, 1287, 1659, 2060, 2456]
a_top = [243, 235, 243, 243, 243, 243, 243]
for i, gene in enumerate(a_genes):
    ax = box(a_left[i], a_top[i], a_left[i] + 267, 596)
    df = pd.DataFrame(a_points[i], columns=['emt', 'mrna'])
    sns.regplot(data=df, x='emt', y='mrna', ax=ax, ci=None,
                scatter_kws={'s': 11, 'color': '#9a9a9a', 'linewidths': 0, 'alpha': 1},
                line_kws={'color': 'red', 'lw': 0.8})
    lo, hi = a_ylim[i]
    ax.set_xlim(-1, 1)
    ax.set_ylim(lo, hi)
    ax.set_xticks([-1, 0, 1])
    ax.set_xticks([-0.5, 0.5], minor=True)
    ax.set_xticklabels(['-1', '0', '1'], rotation=90)
    ax.set_yticks(np.arange(lo, hi + 0.01, a_ystep[i]))
    ax.set_xlabel('')
    ax.set_ylabel('mRNA ' + gene, fontsize=10.5, labelpad=2)
    for sp in ax.spines.values():
        sp.set_linewidth(1.0)
    ax.tick_params(which='major', width=1.0, length=2.5, labelsize=10, pad=1)
    ax.tick_params(which='minor', width=1.0, length=1.8)
    cx = a_left[i] + 125
    ftext(cx, a_top[i] - 75, 'Spearman: ' + a_rho[i], ha='center', va='center', fontsize=9)
    ftext(cx, a_top[i] - 34, r'($\mathit{p}$ ' + a_p[i] + ')', ha='center', va='center', fontsize=9)
hline(192, 2663, 670)
ftext(1428, 719, 'EMT Score', ha='center', va='center', fontsize=13.5)

# ---------------- PANEL B ----------------
b_styles = [('o', 'black', (0, 0, 0, 0), 3.4, 2.6), ('s', 'white', 'black', 3.2, 0.7)]
b_left = [223, 610, 1004, 1393, 1758, 2094, 2518]
b_label_dx = [126, 126, 126, 126, 117, 80, 122]
b_key_dx = [68, 76, 75, 76, 69, 21, 65]
for i, gene in enumerate(b_genes):
    ax = box(b_left[i], 1020, b_left[i] + 181, 1369)
    bar_chart(ax, b_groups, [b_epi[i], b_mes[i]], 'white', b_styles, ['black', 'black'], 0.755, [True, True])
    ax.set_xlim(-0.64, 1.64)
    ax.set_ylim(0, b_ymax[i])
    ax.set_yticks(np.arange(0, b_ymax[i] + 0.01, b_ystep[i]))
    ax.yaxis.set_major_formatter(FormatStrFormatter('%d' if b_ymax[i] > 2 else '%.1f'))
    style_bar(ax)
    sig(ax, 1, b_sig_y[i], b_sig[i], 'black')
    ftext(b_left[i] - b_label_dx[i], 1175, gene + ' mRNA (FC)', rotation=90, ha='center', va='center',
          fontsize=13)
    key(b_left[i] - b_key_dx[i], 906, 'o', 'black', 'black', 3, r'MCF-7$^{\mathregular{Epi}}$', 13.8)
    key(b_left[i] - b_key_dx[i], 956, 's', 'white', 'black', 3, r'MCF-7$^{\mathregular{Mes}}$', 13.8)

# ---------------- PANEL C ----------------
kd_styles = [('o', 'black', (0, 0, 0, 0), 3.4, 2.6), ('s', RED, RED, 4.3, 0), ('^', BLUE, BLUE, 4.6, 0)]
pd_styles = [('s', 'black', 'black', 4.7, 0), ('d', RED, RED, 5.2, 0), ('o', BLUE, BLUE, 4.6, 0)]

# C1: CMTM3 mRNA
up, lo = split_chart(284, 281, (1711, 1875, 1915, 2070), (-0.72, 2.63), (0.58, 1.0), [0.6, 0.8, 1.0],
                     (0, 0.3), [0.0, 0.2], c_groups3, c_cmtm3_mrna, kd_styles, ['black', RED, BLUE])
sig(lo, 1, 0.275, '***', 'black')
sig(lo, 2, 0.12, '***', 'black')
ftext(161, 1866, 'CMTM3 mRNA (FC)', rotation=90, ha='center', va='center', fontsize=13.5)
ftext(429, 2132, MES, ha='center', va='center', fontsize=13.5)
for y, (m, fc, ms), lab in zip([1529, 1589, 1649], [('o', 'black', 2.5), ('s', RED, 3.2), ('^', BLUE, 3.4)], c_groups3):
    key(212, y, m, fc, fc, ms, lab)

# C2: PD-L1 (CMTM3)
ax = box(879, 1716, 1159, 2074)
bar_chart(ax, c_groups3, c_cmtm3_pdl1, '#d3d3d3', pd_styles, ['black', RED, BLUE], 0.65, [True] * 3)
ax.set_xlim(-0.6, 2.53)
ax.set_ylim(0, 1.5)
ax.set_yticks([0, 0.5, 1.0, 1.5])
ax.yaxis.set_major_formatter(FormatStrFormatter('%.1f'))
style_bar(ax, minor=0.25)
sig(ax, 1, 1.5, 'ns', RED)
sig(ax, 2, 1.41, 'ns', BLUE)
ftext(755, 1873, PDL1, rotation=90, ha='center', va='center', fontsize=13.5)
ftext(1022, 2141, MES, ha='center', va='center', fontsize=13.5)
for y, (m, fc, ms), lab in zip([1560, 1610, 1660], [('s', 'black', 3.6), ('d', RED, 4.0), ('o', BLUE, 3.6)], c_groups3):
    key(808, y, m, fc, fc, ms, lab)

# C3: CMTM7 mRNA
up, lo = split_chart(1643, 271, (1713, 1877, 1917, 2072), (-0.61, 2.61), (0.58, 1.0), [0.6, 0.8, 1.0],
                     (0, 0.3), [0.0, 0.2], c_groups7, c_cmtm7_mrna, kd_styles, ['black', RED, BLUE])
sig(lo, 1, 0.167, '***', 'black')
sig(lo, 2, 0.13, '***', 'black')
ftext(1508, 1866, 'CMTM7 mRNA (FC)', rotation=90, ha='center', va='center', fontsize=13.5)
ftext(1778, 2134, MES, ha='center', va='center', fontsize=13.5)
for y, (m, fc, ms), lab in zip([1534, 1594, 1656], [('o', 'black', 2.5), ('s', RED, 3.2), ('^', BLUE, 3.4)], c_groups7):
    key(1564, y, m, fc, fc, ms, lab)

# C4: PD-L1 (CMTM7)
ax = box(2263, 1716, 2547, 2074)
bar_chart(ax, c_groups7, c_cmtm7_pdl1, '#d3d3d3', pd_styles, ['black', RED, BLUE], 0.64, [True] * 3)
ax.set_xlim(-0.66, 2.51)
ax.set_ylim(0, 1.0)
ax.set_yticks([0, 0.5, 1.0])
ax.yaxis.set_major_formatter(FormatStrFormatter('%.1f'))
style_bar(ax, minor=0.25)
sig(ax, 1, 0.85, '**', RED)
sig(ax, 2, 0.775, '***', BLUE)
ftext(2141, 1873, PDL1, rotation=90, ha='center', va='center', fontsize=13.5)
ftext(2409, 2144, MES, ha='center', va='center', fontsize=13.5)
for y, (m, fc, ms), lab in zip([1558, 1608, 1658], [('s', 'black', 3.6), ('d', RED, 4.0), ('o', BLUE, 3.6)], c_groups7):
    key(2197, y, m, fc, fc, ms, lab)

# ---------------- PANEL D ----------------
for y, (m, fc, ms), lab in zip([2267, 2326, 2386], [('o', 'black', 2.5), ('s', RED, 3.2), ('^', BLUE, 3.4)], d_groups):
    key(350, y, m, fc, fc, ms, lab)

# D1: CMTM6 mRNA
up, lo = split_chart(433, 271, (2532, 2692, 2740, 2890), (-0.6, 2.63), (0.58, 1.0), [0.6, 0.8, 1.0],
                     (0, 0.3), [0.0, 0.2], d_groups, d_cmtm6_mrna, kd_styles, ['black', RED, BLUE])
sig(lo, 1, 0.12, '***', 'black')
sig(lo, 2, 0.076, '***', 'black')
ftext(295, 2687, 'CMTM6 mRNA (FC)', rotation=90, ha='center', va='center', fontsize=13.5)
ftext(567, 2952, MES, ha='center', va='center', fontsize=13.5)

# D2: CMTM7 mRNA
up, lo = split_chart(918, 271, (2532, 2685, 2735, 2890), (-0.6, 2.62), (0.8, 1.0), [0.8, 1.0],
                     (0, 0.2), [0.0, 0.1, 0.2], d_groups, d_cmtm7_mrna, kd_styles, ['black', RED, BLUE],
                     marks=False)
sig(lo, 1, 0.094, '***', RED)
sig(lo, 2, 0.077, '***', BLUE)
ftext(779, 2687, 'CMTM7 mRNA (FC)', rotation=90, ha='center', va='center', fontsize=13.5)
ftext(1053, 2952, MES, ha='center', va='center', fontsize=13.5)

# D3: PD-L1
ax = box(1729, 2530, 2003, 2890)
bar_chart(ax, d_groups, d_pdl1, '#d3d3d3', pd_styles, ['black', RED, BLUE], 0.64, [True] * 3)
ax.set_xlim(-0.52, 2.54)
ax.set_ylim(0, 1.0)
ax.set_yticks([0, 0.5, 1.0])
ax.yaxis.set_major_formatter(FormatStrFormatter('%.1f'))
style_bar(ax, minor=0.25)
sig(ax, 1, 0.57, '***', RED)
sig(ax, 2, 0.72, '***', BLUE)
ftext(1594, 2687, PDL1, rotation=90, ha='center', va='center', fontsize=13.5)
ftext(1864, 2955, MES, ha='center', va='center', fontsize=13.5)
for y, (m, fc, ms), lab in zip([2378, 2429, 2478], [('s', 'black', 3.6), ('d', RED, 4.0), ('o', BLUE, 3.6)], d_groups):
    key(1649, y, m, fc, fc, ms, lab)

# ---------------- PANEL E ----------------
e_points = [e_cmtm1 + e_cmtm1_core, e_cmtm2 + e_cmtm2_core, e_cmtm3 + e_cmtm3_core, e_cmtm4 + e_cmtm4_core,
            e_cmtm5 + e_cmtm5_core, e_cmtm7 + e_cmtm7_core, e_cmtm8 + e_cmtm8_core]
e_left = [132, 525, 902, 1279, 1672, 2049, 2429]
for i, gene in enumerate(e_genes):
    ax = box(e_left[i], 3175, e_left[i] + 297, 3469)
    df = pd.DataFrame(e_points[i], columns=['vim', 'mrna'])
    sns.regplot(data=df, x='vim', y='mrna', ax=ax, ci=None,
                scatter_kws={'s': 3.5, 'color': '#3a93dc', 'edgecolors': '#1a6db8', 'linewidths': 0.25, 'alpha': 1},
                line_kws={'color': '#f04a3e', 'lw': 0.7})
    ax.set_xlim(9.1, 14.5)
    ax.set_ylim(*e_ylim[i])
    ax.set_xticks(e_xticks)
    ax.set_xticklabels(['%g' % v for v in e_xticks], rotation=90)
    ax.set_yticks(e_yticks[i])
    ax.set_yticklabels(['%g' % v for v in e_yticks[i]])
    ax.grid(True, color='#e2e2e2', lw=0.5, ls=(0, (3, 2)))
    ax.set_axisbelow(True)
    sns.despine(ax=ax)
    ax.spines['left'].set_linewidth(1.2)
    ax.spines['bottom'].set_linewidth(1.2)
    ax.tick_params(width=1.0, length=1.5, labelsize=6.5, pad=0.5)
    ax.set_xlabel('')
    ax.set_ylabel('mRNA ' + gene, fontsize=10.8, labelpad=0.5)
    cx = e_left[i] + 142
    ftext(cx, 3086, 'Spearman: ' + e_rho[i], ha='center', va='center', fontsize=11.3)
    ftext(cx, 3132, r'($\mathit{p}$ = ' + e_p[i] + ')', ha='center', va='center', fontsize=11.3)
hline(198, 2670, 3560)
ftext(1420, 3599, 'mRNA VIM', ha='center', va='center', fontsize=13)

fig.savefig('out.png', dpi=300)
